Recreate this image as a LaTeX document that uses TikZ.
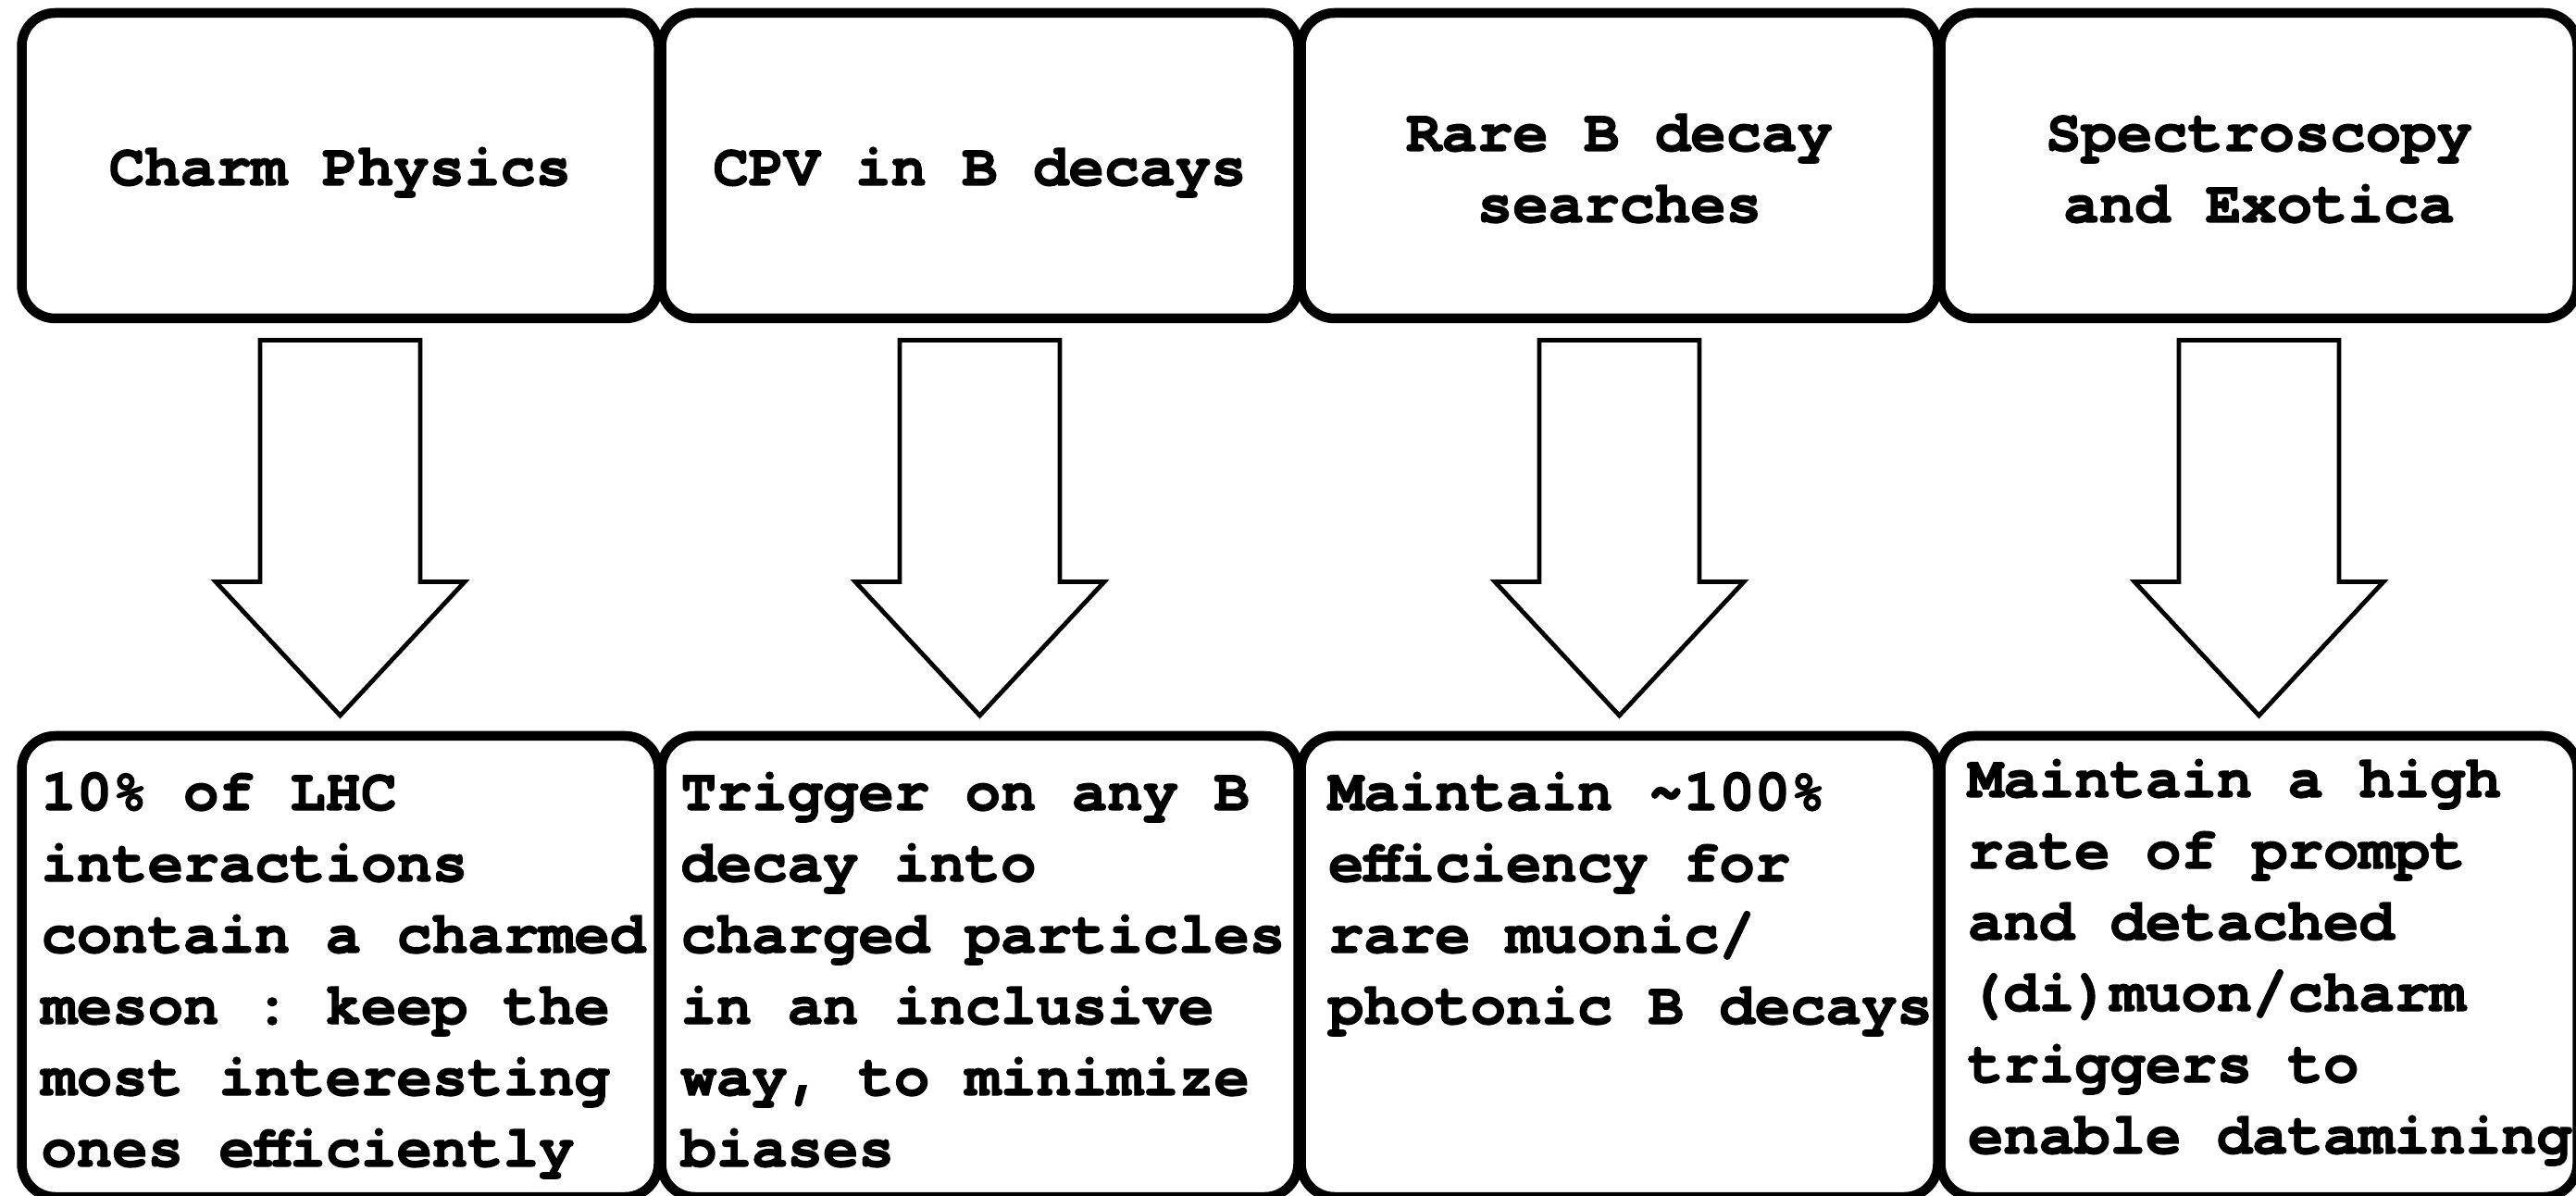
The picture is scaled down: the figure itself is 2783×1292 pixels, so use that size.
\documentclass[tikz,border=0pt]{standalone}
\usepackage{fontspec}
\setmainfont{TeX Gyre Cursor}[BoldFeatures={FakeBold=2}]
\usetikzlibrary{calc}
\tikzset{
  boxbase/.style={draw, line width=2.625pt, rounded corners=9pt, minimum width=172pt,
    inner sep=0pt, outer sep=0pt},
  topbox/.style={boxbase, minimum height=82.5pt},
  botbox/.style={boxbase, minimum height=124.5pt},
  lbl/.style={inner sep=0pt, outer sep=0pt, font=\fontsize{16}{19.25}\selectfont\bfseries\frenchspacing},
  blockarrow/.style={draw, line width=1.2pt, line join=miter, fill=white},
}
\begin{document}
\begin{tikzpicture}[x=0.25pt,y=-0.25pt]
\fill[white] (0,0) rectangle (2783,1292);
\useasboundingbox (0,0) rectangle (2783,1292);
\clip (0,0) rectangle (2783,1292);
% top boxes
\node[topbox] (t1) at (367.5,179) {};
\node[topbox] (t2) at (1058.5,179) {};
\node[topbox] (t3) at (1749.5,179) {};
\node[topbox] (t4) at (2440.5,179) {};
% bottom boxes
\node[botbox] (b1) at (367.5,1044) {};
\node[botbox] (b2) at (1058.5,1044) {};
\node[botbox] (b3) at (1749.5,1044) {};
\node[botbox] (b4) at (2440.5,1044) {};
% top labels
\node[lbl, anchor=base] (l1) at (367.5,200) {Charm Physics};
\node[lbl, anchor=base] (l2) at (1058.5,200) {CPV in B decays};
\node[lbl, anchor=base] (l3) at (1749.5,163) {\begin{tabular}[t]{@{}c@{}}Rare B decay\\searches\end{tabular}};
\node[lbl, anchor=base] (l4) at (2440.5,163) {\begin{tabular}[t]{@{}c@{}}Spectroscopy\\and Exotica\end{tabular}};
% bottom texts
\node[lbl, anchor=base west] (d1) at (44.5,875) {\begin{tabular}[t]{@{}l@{}}10\% of LHC\\interactions\\contain a charmed\\meson : keep the\\most interesting\\ones efficiently\end{tabular}};
\node[lbl, anchor=base west] (d2) at (735.5,875) {\begin{tabular}[t]{@{}l@{}}Trigger on any B\\decay into\\charged particles\\in an inclusive\\way, to minimize\\biases\end{tabular}};
\node[lbl, anchor=base west] (d3) at (1435,875) {\begin{tabular}[t]{@{}l@{}}Maintain \textasciitilde100\%\\efficiency for\\rare muonic/\\photonic B decays\end{tabular}};
\node[lbl, anchor=base west] (d4) at (2126,861) {\begin{tabular}[t]{@{}l@{}}Maintain a high\\rate of prompt\\and detached\\(di)muon/charm\\triggers to\\enable datamining\end{tabular}};
% block arrows
\foreach \i in {1,2,3,4}{
  \draw[blockarrow] ($(t\i.south)+(-86.5,23.5)$) -- ($(t\i.south)+(86.5,23.5)$)
    -- ($(t\i.south)+(86.5,284.5)$) -- ($(t\i.south)+(134.5,284.5)$)
    -- ($(b\i.north)+(0,-22)$)
    -- ($(t\i.south)+(-134.5,284.5)$) -- ($(t\i.south)+(-86.5,284.5)$) -- cycle;
}
\end{tikzpicture}
\end{document}
